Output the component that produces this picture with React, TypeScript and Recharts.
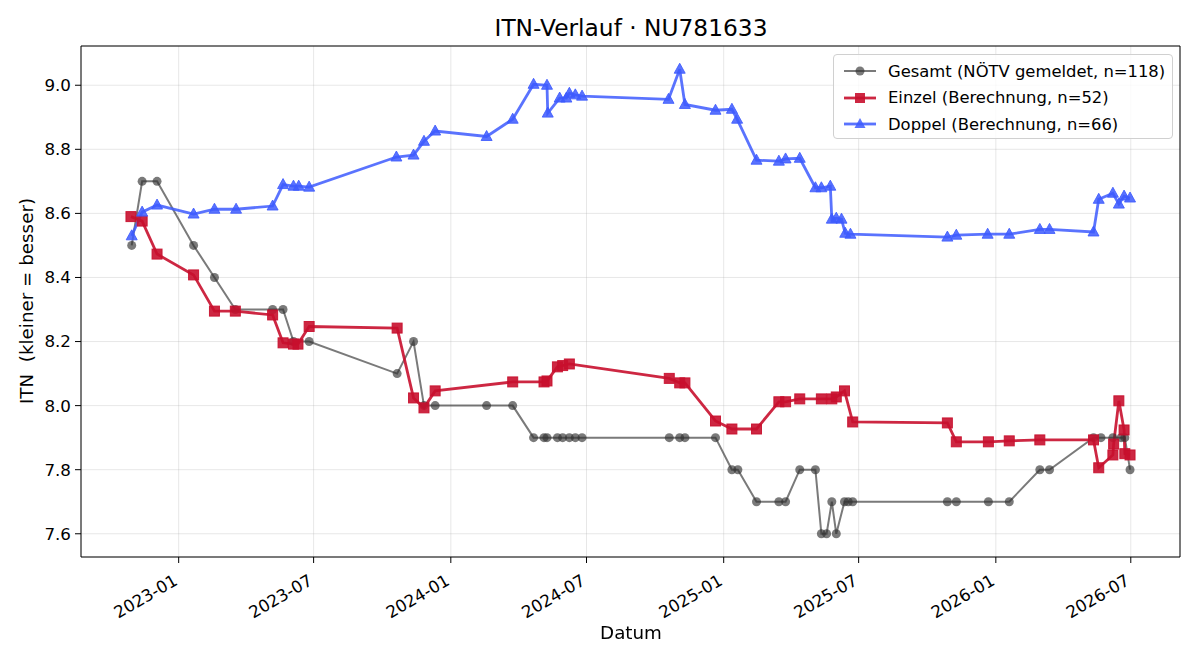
import { LineChart, Line, XAxis, YAxis, CartesianGrid, ReferenceLine } from 'recharts'

// Gesamt (NÖTV gemeldet)
const gesamtDates = [
    '2022-10-30', '2022-11-13', '2022-12-03', '2023-01-21', '2023-02-18', '2023-03-18',
    '2023-05-07', '2023-05-21', '2023-06-04', '2023-06-25', '2023-10-21', '2023-11-12',
    '2023-11-26', '2023-12-11', '2024-02-18', '2024-03-24', '2024-04-21', '2024-05-05',
    '2024-05-09', '2024-05-23', '2024-05-30', '2024-06-08', '2024-06-16', '2024-06-25',
    '2024-10-20', '2024-11-03', '2024-11-10', '2024-12-21', '2025-01-12', '2025-01-20',
    '2025-02-14', '2025-03-16', '2025-03-25', '2025-04-13', '2025-05-04', '2025-05-12',
    '2025-05-19', '2025-05-26', '2025-06-01', '2025-06-12', '2025-06-17', '2025-06-23',
    '2025-10-28', '2025-11-09', '2025-12-22', '2026-01-19', '2026-03-01', '2026-03-14',
    '2026-05-12', '2026-05-22', '2026-06-07', '2026-06-18', '2026-06-23', '2026-06-30',
]
const gesamtValues = [
    8.5, 8.7, 8.7, 8.5, 8.4, 8.3,
    8.3, 8.3, 8.2, 8.2, 8.1, 8.2,
    8.0, 8.0, 8.0, 8.0, 7.9, 7.9,
    7.9, 7.9, 7.9, 7.9, 7.9, 7.9,
    7.9, 7.9, 7.9, 7.9, 7.8, 7.8,
    7.7, 7.7, 7.7, 7.8, 7.8, 7.6,
    7.6, 7.7, 7.6, 7.7, 7.7, 7.7,
    7.7, 7.7, 7.7, 7.7, 7.8, 7.8,
    7.9, 7.9, 7.9, 7.9, 7.9, 7.8,
]

// Einzel (Berechnung)
const einzelDates = [
    '2022-10-29', '2022-11-13', '2022-12-03', '2023-01-21', '2023-02-18', '2023-03-18',
    '2023-05-07', '2023-05-21', '2023-06-04', '2023-06-10', '2023-06-25', '2023-10-21',
    '2023-11-12', '2023-11-26', '2023-12-11', '2024-03-24', '2024-05-05', '2024-05-09',
    '2024-05-23', '2024-05-30', '2024-06-08', '2024-10-20', '2024-11-03', '2024-11-10',
    '2024-12-21', '2025-01-12', '2025-02-14', '2025-03-16', '2025-03-25', '2025-04-13',
    '2025-05-12', '2025-05-26', '2025-06-01', '2025-06-12', '2025-06-23', '2025-10-28',
    '2025-11-09', '2025-12-22', '2026-01-19', '2026-03-01', '2026-05-12', '2026-05-19',
    '2026-06-07', '2026-06-08', '2026-06-15', '2026-06-22', '2026-06-23', '2026-06-30',
]
const einzelValues = [
    8.59, 8.576, 8.473, 8.408, 8.295, 8.295,
    8.283, 8.196, 8.192, 8.192, 8.247, 8.242,
    8.024, 7.993, 8.046, 8.074, 8.074, 8.077,
    8.121, 8.125, 8.13, 8.085, 8.071, 8.071,
    7.952, 7.927, 7.927, 8.012, 8.012, 8.021,
    8.021, 8.021, 8.027, 8.046, 7.949, 7.946,
    7.887, 7.887, 7.89, 7.893, 7.893, 7.806,
    7.846, 7.88, 8.015, 7.924, 7.85, 7.846,
]

// Doppel (Berechnung)
const doppelDates = [
    '2022-10-30', '2022-11-13', '2022-12-03', '2023-01-21', '2023-02-18', '2023-03-19',
    '2023-05-07', '2023-05-21', '2023-06-04', '2023-06-11', '2023-06-25', '2023-10-20',
    '2023-11-12', '2023-11-26', '2023-12-11', '2024-02-18', '2024-03-24', '2024-04-21',
    '2024-05-09', '2024-05-10', '2024-05-26', '2024-06-04', '2024-06-08', '2024-06-16',
    '2024-06-25', '2024-10-19', '2024-11-03', '2024-11-10', '2024-12-21', '2025-01-12',
    '2025-01-19', '2025-02-14', '2025-03-16', '2025-03-25', '2025-04-13', '2025-05-04',
    '2025-05-12', '2025-05-24', '2025-05-26', '2025-06-01', '2025-06-08', '2025-06-13',
    '2025-06-20', '2025-10-28', '2025-11-09', '2025-12-21', '2026-01-19', '2026-03-01',
    '2026-03-14', '2026-05-12', '2026-05-19', '2026-06-07', '2026-06-15', '2026-06-22',
    '2026-06-30',
]
const doppelValues = [
    8.53, 8.604, 8.626, 8.598, 8.613, 8.613,
    8.623, 8.69, 8.685, 8.685, 8.682, 8.776,
    8.782, 8.825, 8.857, 8.84, 8.894, 9.003,
    9.0, 8.913, 8.96, 8.96, 8.975, 8.97,
    8.966, 8.956, 9.05, 8.94, 8.922, 8.925,
    8.894, 8.766, 8.763, 8.77, 8.772, 8.68,
    8.68, 8.685, 8.582, 8.585, 8.582, 8.538,
    8.535, 8.526, 8.532, 8.535, 8.535, 8.55,
    8.55, 8.542, 8.644, 8.663, 8.629, 8.654,
    8.648,
]

const xTickDates = ['2023-01-01', '2023-07-01', '2024-01-01', '2024-07-01', '2025-01-01', '2025-07-01', '2026-01-01', '2026-07-01']
const yTicks = [7.6, 7.8, 8.0, 8.2, 8.4, 8.6, 8.8, 9.0]

const FONT = '"DejaVu Sans", sans-serif'
const GRAY = '#333333'
const RED = '#C8102E'
const BLUE = '#3D5AFE'

const toSeries = (dates: string[], values: number[]) =>
    dates.map((d, i) => ({ t: Date.parse(d), v: values[i] }))

const gesamt = toSeries(gesamtDates, gesamtValues)
const einzel = toSeries(einzelDates, einzelValues)
const doppel = toSeries(doppelDates, doppelValues)

// matplotlib-like 5% margins around the data
const allT = [...gesamt, ...einzel, ...doppel].map((p) => p.t)
const allV = [...gesamt, ...einzel, ...doppel].map((p) => p.v)
const tMin = Math.min(...allT), tMax = Math.max(...allT)
const vMin = Math.min(...allV), vMax = Math.max(...allV)
const xDomain = [tMin - (tMax - tMin) * 0.05, tMax + (tMax - tMin) * 0.05]
const yDomain = [vMin - (vMax - vMin) * 0.05, vMax + (vMax - vMin) * 0.05]
const xTicks = xTickDates.map((d) => Date.parse(d))

const fmtDate = (t: number) => {
    const d = new Date(t)
    return `${d.getUTCFullYear()}-${String(d.getUTCMonth() + 1).padStart(2, '0')}`
}

const DateTick = (props: any) => {
    const { x, y, payload } = props
    return (
        <g transform={`translate(${x},${y + 19})`}>
            <text textAnchor="end" transform="rotate(-30)" fontSize={16.7} fontFamily={FONT} fill="#000">
                {fmtDate(payload.value)}
            </text>
        </g>
    )
}

const circleDot = (p: any) => (
    <circle key={`c-${p.index}`} cx={p.cx} cy={p.cy} r={4.5} fill={GRAY} fillOpacity={0.65} />
)
const squareDot = (p: any) => (
    <rect key={`s-${p.index}`} x={p.cx - 5} y={p.cy - 5} width={10} height={10}
        fill={RED} fillOpacity={0.9} stroke={RED} strokeOpacity={0.9} strokeWidth={1} />
)
const triangleDot = (p: any) => (
    <polygon key={`t-${p.index}`}
        points={`${p.cx},${p.cy - 6} ${p.cx - 5.5},${p.cy + 4} ${p.cx + 5.5},${p.cy + 4}`}
        fill={BLUE} fillOpacity={0.85} stroke={BLUE} strokeOpacity={0.85} strokeWidth={1} />
)

const legendItems = [
    { label: 'Gesamt (NÖTV gemeldet, n=118)', color: GRAY, opacity: 0.65, width: 2, marker: 'circle' },
    { label: 'Einzel (Berechnung, n=52)', color: RED, opacity: 0.9, width: 2.8, marker: 'square' },
    { label: 'Doppel (Berechnung, n=66)', color: BLUE, opacity: 0.85, width: 2.8, marker: 'triangle' },
]

function LegendBox() {
    return (
        <div style={{
            position: 'absolute', left: 833, top: 54, width: 340, height: 85,
            background: 'rgba(255,255,255,0.8)', border: '1px solid #d0d0d0', borderRadius: 4,
            fontFamily: FONT, fontSize: 16.4, color: '#000', boxSizing: 'border-box', paddingTop: 3,
        }}>
            {legendItems.map((it) => (
                <div key={it.label} style={{ display: 'flex', alignItems: 'center', height: 26.5, paddingLeft: 9 }}>
                    <svg width={34} height={14} style={{ marginRight: 11 }}>
                        <line x1={1} y1={7} x2={33} y2={7} stroke={it.color} strokeOpacity={it.opacity} strokeWidth={it.width} />
                        {it.marker === 'circle' && <circle cx={17} cy={7} r={4.5} fill={it.color} fillOpacity={it.opacity} />}
                        {it.marker === 'square' && <rect x={12} y={2} width={10} height={10} fill={it.color} fillOpacity={it.opacity} />}
                        {it.marker === 'triangle' && <polygon points="17,1 11.5,11 22.5,11" fill={it.color} fillOpacity={it.opacity} />}
                    </svg>
                    <span style={{ whiteSpace: 'pre' }}>{it.label}</span>
                </div>
            ))}
        </div>
    )
}

export default function App() {
    return (
        <div style={{ position: 'fixed', left: 0, top: 0, width: 1200, height: 660, background: '#fff', fontFamily: FONT }}>
            <div style={{ position: 'absolute', left: 0, width: 1262, top: 14, textAlign: 'center', fontSize: 23.3, lineHeight: '28px' }}>
                ITN-Verlauf · NU781633
            </div>
            <LineChart width={1200} height={660} margin={{ top: 46, right: 20, bottom: 0, left: 0 }}>
                <CartesianGrid stroke="#b0b0b0" strokeOpacity={0.3} strokeWidth={1} />
                <XAxis dataKey="t" type="number" domain={xDomain} ticks={xTicks} allowDataOverflow
                    height={103} tickSize={6} tick={<DateTick />} interval={0}
                    tickLine={{ stroke: '#000' }} axisLine={{ stroke: '#000' }} />
                <YAxis type="number" domain={yDomain} ticks={yTicks} allowDataOverflow width={81} interval={0}
                    tickSize={6} tickMargin={4} tickFormatter={(v: number) => v.toFixed(1)}
                    tick={{ fill: '#000', fontSize: 16.7, fontFamily: FONT }}
                    tickLine={{ stroke: '#000' }} axisLine={{ stroke: '#000' }} />
                <ReferenceLine y={yDomain[1]} stroke="#000" strokeWidth={1} />
                <ReferenceLine x={xDomain[1]} stroke="#000" strokeWidth={1} />
                <Line data={gesamt} dataKey="v" type="linear" stroke={GRAY} strokeOpacity={0.65} strokeWidth={2}
                    dot={circleDot} activeDot={false} isAnimationActive={false} />
                <Line data={einzel} dataKey="v" type="linear" stroke={RED} strokeOpacity={0.9} strokeWidth={2.8}
                    dot={squareDot} activeDot={false} isAnimationActive={false} />
                <Line data={doppel} dataKey="v" type="linear" stroke={BLUE} strokeOpacity={0.85} strokeWidth={2.8}
                    dot={triangleDot} activeDot={false} isAnimationActive={false} />
            </LineChart>
            <div style={{ position: 'absolute', left: 26, top: 301, transform: 'translate(-50%, -50%) rotate(-90deg)', whiteSpace: 'pre', fontSize: 18.3 }}>
                ITN  (kleiner = besser)
            </div>
            <div style={{ position: 'absolute', left: 0, width: 1262, top: 622, textAlign: 'center', fontSize: 18.3 }}>
                Datum
            </div>
            <LegendBox />
        </div>
    )
}
